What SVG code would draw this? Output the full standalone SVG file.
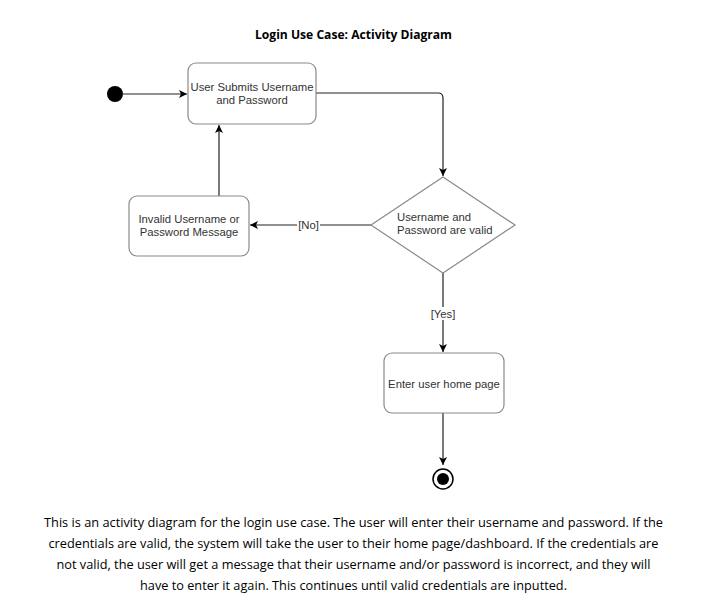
<svg xmlns="http://www.w3.org/2000/svg" width="719" height="615" viewBox="0 0 719 615">
<defs>
<marker id="arr" markerWidth="10" markerHeight="10" refX="8" refY="4" orient="auto" markerUnits="userSpaceOnUse">
<path d="M0,0 L8,4 L0,8 L2,4 Z" fill="#000"/>
</marker>
<style>
.box{fill:#fff;stroke:#8a8a8a;stroke-width:1.2}
.lbl{font-family:"Liberation Sans",Arial,sans-serif;font-size:11.3px;fill:#333}
.edge{fill:none;stroke:#222;stroke-width:1.2}
.cap{font-family:"Open Sans","Noto Sans",sans-serif;font-size:13px;fill:#000}
</style>
</defs>
<rect width="719" height="615" fill="#fff"/>
<text x="353.5" y="39" text-anchor="middle" class="cap" font-weight="bold" textLength="197" lengthAdjust="spacingAndGlyphs">Login Use Case: Activity Diagram</text>
<g id="connectors">
<line x1="123" y1="94" x2="187" y2="94" class="edge" marker-end="url(#arr)"/>
<path d="M316,93 H438 Q443,93 443,98 V176" class="edge" marker-end="url(#arr)"/>
<line x1="371" y1="225" x2="250" y2="225" class="edge" marker-end="url(#arr)"/>
<rect x="297" y="219" width="23" height="12" fill="#fff"/>
<text x="308.5" y="229" text-anchor="middle" class="lbl">[No]</text>
<line x1="219" y1="196" x2="219" y2="125" class="edge" marker-end="url(#arr)"/>
<line x1="443" y1="273" x2="443" y2="352" class="edge" marker-end="url(#arr)"/>
<rect x="430" y="307" width="26" height="13" fill="#fff"/>
<text x="443" y="318" text-anchor="middle" class="lbl">[Yes]</text>
<line x1="443" y1="413" x2="443" y2="465" class="edge" marker-end="url(#arr)"/>
</g>
<g id="start">
<circle cx="115" cy="94" r="8" fill="#000"/>
</g>
<g id="submit">
<rect x="188" y="63" width="128" height="61" rx="8" class="box"/>
<text x="252" y="91" text-anchor="middle" class="lbl">User Submits Username</text>
<text x="252" y="104" text-anchor="middle" class="lbl">and Password</text>
</g>
<g id="decision">
<polygon points="443,177 515,225 443,273 371,225" class="box"/>
<text x="397" y="221" class="lbl">Username and</text>
<text x="397" y="234" class="lbl">Password are valid</text>
</g>
<g id="invalid">
<rect x="129" y="196" width="120" height="60" rx="8" class="box"/>
<text x="189" y="223" text-anchor="middle" class="lbl">Invalid Username or</text>
<text x="189" y="236" text-anchor="middle" class="lbl">Password Message</text>
</g>
<g id="home">
<rect x="384" y="353" width="120" height="60" rx="8" class="box"/>
<text x="444" y="388" text-anchor="middle" class="lbl">Enter user home page</text>
</g>
<g id="end">
<circle cx="443" cy="479" r="10" fill="#fff" stroke="#000" stroke-width="1.5"/>
<circle cx="443" cy="479" r="6" fill="#000"/>
</g>
<g id="caption">
<text x="353.5" y="527" text-anchor="middle" class="cap" textLength="619" lengthAdjust="spacingAndGlyphs">This is an activity diagram for the login use case. The user will enter their username and password. If the</text>
<text x="353.5" y="548" text-anchor="middle" class="cap" textLength="610" lengthAdjust="spacingAndGlyphs">credentials are valid, the system will take the user to their home page/dashboard. If the credentials are</text>
<text x="353.5" y="569" text-anchor="middle" class="cap" textLength="594" lengthAdjust="spacingAndGlyphs">not valid, the user will get a message that their username and/or password is incorrect, and they will</text>
<text x="353.5" y="590" text-anchor="middle" class="cap" textLength="427" lengthAdjust="spacingAndGlyphs">have to enter it again. This continues until valid credentials are inputted.</text>
</g>
</svg>
